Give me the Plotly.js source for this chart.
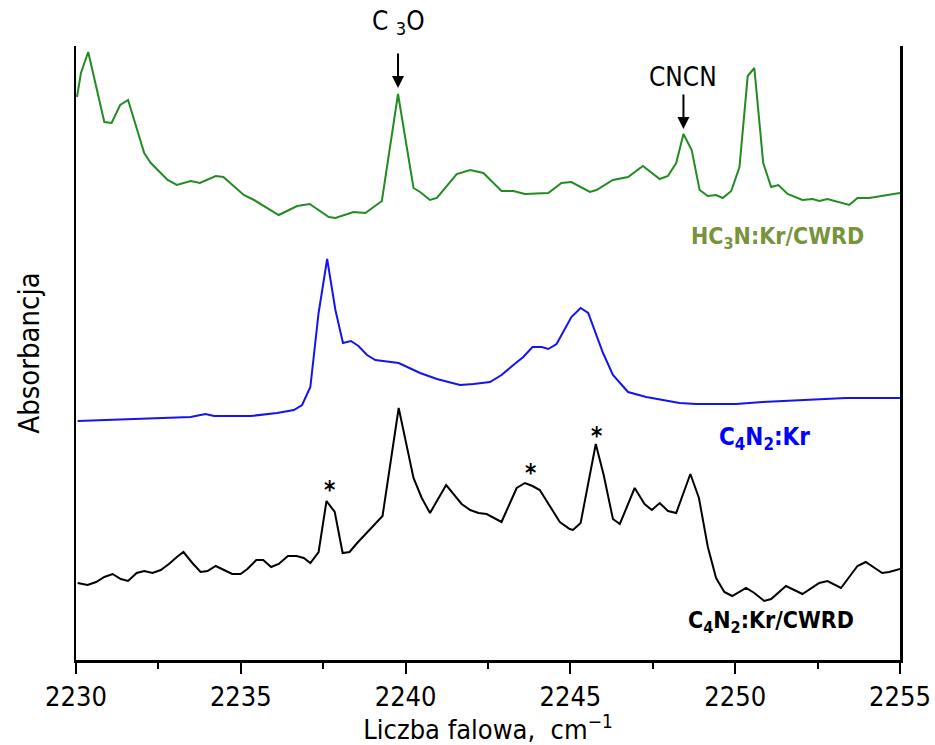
<!DOCTYPE html>
<html>
<head>
<meta charset="utf-8">
<script src="https://cdn.plot.ly/plotly-3.0.1.min.js"></script>
<style>html,body{margin:0;padding:0;background:#fff;}#chart{width:935px;height:745px;}</style>
</head>
<body>
<div id="chart"></div>
<script>
// Wavenumber (cm^-1) and absorbance (arbitrary units, traces offset vertically)
var greenX = [2230.03,2230.15,2230.37,2230.86,2231.08,2231.34,2231.58,2232.07,2232.27,2232.78,2233.06,2233.48,2233.76,2234.24,2234.47,2235.09,2235.40,2236.15,2236.71,2237.09,2237.67,2237.87,2238.42,2238.78,2239.28,2239.77,2240.24,2240.44,2240.74,2240.95,2241.55,2241.96,2242.36,2242.91,2243.27,2243.62,2244.33,2244.73,2245.03,2245.59,2245.79,2246.29,2246.75,2247.20,2247.71,2247.96,2248.21,2248.43,2248.68,2248.92,2249.17,2249.42,2249.62,2249.88,2250.13,2250.38,2250.58,2250.85,2251.09,2251.31,2251.59,2252.04,2252.35,2252.55,2252.80,2253.46,2253.71,2254.06,2255.00];
var greenY = [563,587,608,538,537,555,560,507,497,480,475,479,477,484,483,465,460,445,454,456,443,442,448,447,459,566,472,468,460,462,486,490,487,469,469,466,467,477,478,468,470,480,483,494,481,484,497,526,510,470,464,465,462,469,493,584,592,497,473,475,466,460,461,459,461,455,462,462,467];

var blueX = [2230.05,2230.96,2232.88,2233.48,2233.93,2234.19,2235.30,2236.10,2236.61,2236.86,2237.11,2237.36,2237.62,2237.87,2238.10,2238.34,2238.57,2238.83,2239.08,2239.79,2240.44,2240.95,2241.65,2242.06,2242.56,2242.91,2243.27,2243.57,2243.85,2244.13,2244.33,2244.58,2245.03,2245.31,2245.54,2245.99,2246.29,2246.75,2247.30,2248.31,2248.82,2250.03,2250.83,2252.35,2253.36,2255.00];
var blueY = [239,240,242,243,246,244,244,247,250,255,273,347,401,350,317,319,314,305,300,297,287,281,275,276,278,285,295,303,313,313,311,316,343,352,347,307,285,268,263,257,256,256,258,260,262,262];

var blackX = [2230.05,2230.35,2230.61,2230.86,2231.11,2231.36,2231.58,2231.84,2232.07,2232.32,2232.57,2232.82,2233.06,2233.26,2233.53,2233.78,2233.99,2234.24,2234.49,2234.74,2234.99,2235.20,2235.47,2235.68,2235.92,2236.15,2236.43,2236.69,2236.91,2237.11,2237.36,2237.60,2237.85,2238.09,2238.30,2238.53,2238.93,2239.30,2239.79,2240.24,2240.49,2240.74,2241.23,2241.70,2241.96,2242.21,2242.46,2242.91,2243.37,2243.62,2243.85,2244.07,2244.68,2244.98,2245.08,2245.31,2245.77,2246.01,2246.29,2246.50,2246.95,2247.25,2247.47,2247.71,2247.96,2248.21,2248.64,2248.90,2249.17,2249.42,2249.67,2249.91,2250.33,2250.58,2250.88,2251.09,2251.54,2252.04,2252.55,2252.80,2253.21,2253.71,2253.96,2254.46,2254.67,2255.00];
var blackY = [77,75,78,83,86,81,79,87,89,87,90,96,103,108,97,88,89,94,90,86,86,91,100,100,93,96,104,104,102,97,108,159,148,107,108,117,131,144,252,182,162,147,175,156,150,147,146,138,172,177,174,170,138,131,130,137,216,185,141,136,172,156,150,157,149,147,186,162,113,82,68,64,72,67,59,61,74,66,77,79,72,94,98,87,88,91];

var xTickVals = [2230,2235,2240,2245,2250,2255];
var xTickText = ['2230','2235','2240','2245','2250','2255'];

var seriesNames = ['HC<sub>3</sub>N:Kr/CWRD','C<sub>4</sub>N<sub>2</sub>:Kr','C<sub>4</sub>N<sub>2</sub>:Kr/CWRD'];

var FONT = 'DejaVu Sans Condensed, Open Sans, sans-serif';

var traces = [
  {x: greenX, y: greenY, mode: 'lines', line: {color: '#228b22', width: 2}, name: seriesNames[0]},
  {x: blueX, y: blueY, mode: 'lines', line: {color: '#1414f0', width: 2}, name: seriesNames[1]},
  {x: blackX, y: blackY, mode: 'lines', line: {color: '#000000', width: 2}, name: seriesNames[2]}
];

var annotations = [
  // C3O arrow + text
  {x: 2239.77, y: 572, xref: 'x', yref: 'y', text: '', showarrow: true, ax: 0, ay: -36, arrowhead: 2, arrowsize: 1.2, arrowwidth: 2, arrowcolor: '#000'},
  {x: 2239.77, y: 1.068, xref: 'x', yref: 'paper', text: 'C <sub>3</sub>O', showarrow: false, font: {family: FONT, size: 26, color: '#000'}},
  // CNCN arrow + text
  {x: 2248.43, y: 531, xref: 'x', yref: 'y', text: '', showarrow: true, ax: 0, ay: -36, arrowhead: 2, arrowsize: 1.2, arrowwidth: 2, arrowcolor: '#000'},
  {x: 2248.43, y: 583, xref: 'x', yref: 'y', text: 'CNCN', showarrow: false, font: {family: FONT, size: 26, color: '#000'}},
  // series labels
  {x: 2251.28, y: 422, xref: 'x', yref: 'y', text: '<b>' + seriesNames[0] + '</b>', showarrow: false, font: {family: FONT, size: 23, color: '#77933c'}},
  {x: 2250.88, y: 222, xref: 'x', yref: 'y', text: '<b>' + seriesNames[1] + '</b>', showarrow: false, font: {family: FONT, size: 24, color: '#0000ff'}},
  {x: 2251.10, y: 38, xref: 'x', yref: 'y', text: '<b>' + seriesNames[2] + '</b>', showarrow: false, font: {family: FONT, size: 23, color: '#000'}},
  // asterisks
  {x: 2237.69, y: 170, xref: 'x', yref: 'y', text: '<b>*</b>', showarrow: false, font: {family: FONT, size: 24, color: '#000'}},
  {x: 2243.80, y: 187, xref: 'x', yref: 'y', text: '<b>*</b>', showarrow: false, font: {family: FONT, size: 24, color: '#000'}},
  {x: 2245.80, y: 224, xref: 'x', yref: 'y', text: '<b>*</b>', showarrow: false, font: {family: FONT, size: 24, color: '#000'}}
];

var layout = {
  width: 935, height: 745,
  margin: {l: 76, r: 35, t: 46, b: 85},
  paper_bgcolor: '#fff', plot_bgcolor: '#fff',
  showlegend: false,
  font: {family: FONT, size: 24, color: '#000'},
  xaxis: {
    range: [2230, 2255], tickvals: xTickVals, ticktext: xTickText,
    showgrid: false, zeroline: false, showline: true, linecolor: '#000', linewidth: 2.5,
    ticks: 'outside', ticklen: 11, tickwidth: 2, tickcolor: '#000',
    minor: {dtick: 2.5, tick0: 2230, ticks: 'outside', ticklen: 6, tickwidth: 2, tickcolor: '#000', showgrid: false},
    tickfont: {family: FONT, size: 27, color: '#000'},
    title: {text: 'Liczba falowa,  cm<sup>\u22121</sup>', font: {family: FONT, size: 27, color: '#000'}, standoff: 6}
  },
  yaxis: {
    range: [0, 614], showticklabels: false, ticks: '',
    showgrid: false, zeroline: false, showline: true, mirror: true, linecolor: '#000', linewidth: 2.5,
    title: {text: 'Absorbancja', font: {family: FONT, size: 29, color: '#000'}, standoff: 26}
  },
  annotations: annotations
};

Plotly.newPlot('chart', traces, layout, {staticPlot: true, displayModeBar: false});
</script>
</body>
</html>
